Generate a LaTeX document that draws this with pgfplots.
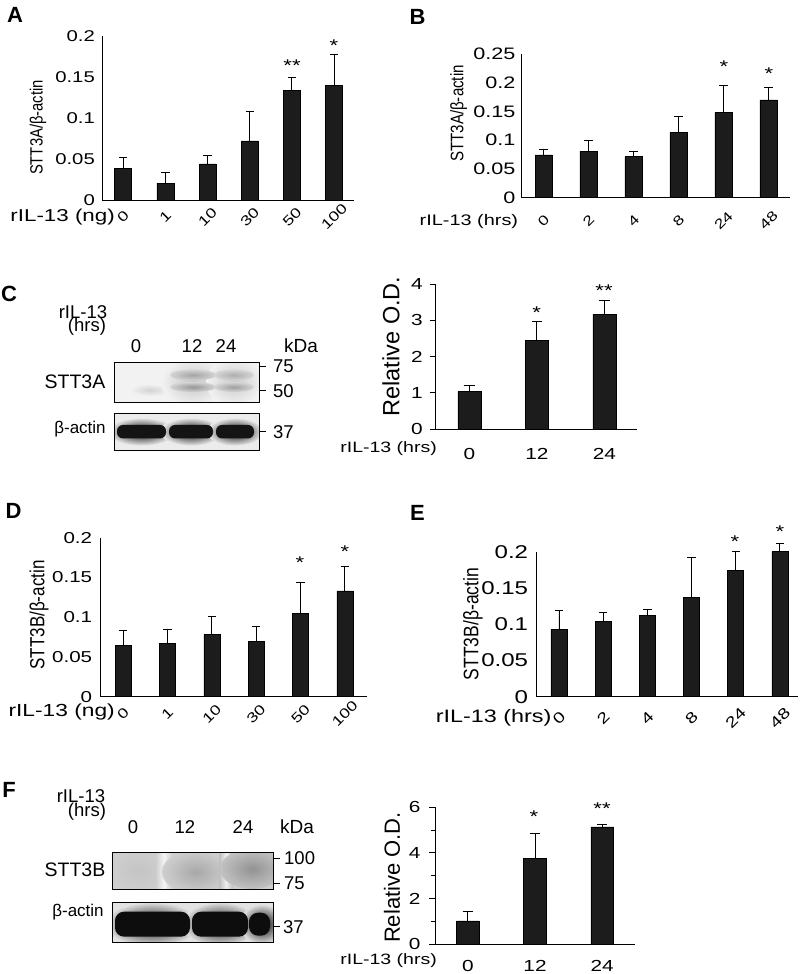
\documentclass[border=0pt]{standalone}
\usepackage{graphicx}
\usepackage{pgfplots}
\pgfplotsset{compat=1.18}
\usepackage{fontspec}
\setmainfont{Liberation Sans}[FakeStretch=1.3]
\newfontfamily\plainfont{Liberation Sans}
\newcommand{\fs}[1]{\fontsize{#1}{#1}\selectfont}
\newcommand{\pf}[1]{\plainfont\fontsize{#1}{#1}\selectfont}
\definecolor{barc}{HTML}{1C1C1C}
\pgfplotsset{
  barpanel/.style={
    scale only axis, anchor=south west,
    axis x line*=bottom, axis y line*=left,
    axis line style={line width=0.9pt},
    ymin=0, clip=false,
    major tick length=0pt,
    xtick style={draw=none}, ytick style={draw=none},
    ybar, bar width=17pt,
    yticklabel style={anchor=east, inner sep=0pt},
    xticklabel style={inner sep=0pt},
    error bars/y dir=plus, error bars/y explicit,
    error bars/error bar style={line width=0.9pt, black},
    error bars/error mark options={rotate=90, line width=0.9pt, mark size=4.2pt, black},
  },
  barplot/.style={fill=barc, draw=black, line width=0.5pt},
  rotlabels/.style={xticklabel style={rotate=45, anchor=center, font=\fs{#1}}},
}
\begin{document}
\begin{tikzpicture}
\begin{scope}[x=1pt,y=1pt]
\useasboundingbox (0,0) rectangle (800,974);
\end{scope}

% ---------------- Panel A ----------------
\begin{axis}[barpanel, at={(102pt,774pt)}, width=252pt, height=164pt,
  xmin=-0.5, xmax=5.47, ymax=0.2,
  ytick={0,0.05,0.1,0.15,0.2}, yticklabels={0,0.05,0.1,0.15,0.2},
  xtick={0,1,2,3,4,5}, xticklabels={0,1,10,30,50,100},
  tick label style={font=\fs{15.6}}, rotlabels=13.8,
  xticklabel shift=17pt, yticklabel shift=7pt]
\addplot[barplot] coordinates {(0,0.039) +- (0,0.0126) (1,0.0207) +- (0,0.0126)
  (2,0.0439) +- (0,0.0106) (3,0.072) +- (0,0.036) (4,0.134) +- (0,0.016) (5,0.140) +- (0,0.038)};
\end{axis}

% ---------------- Panel B ----------------
\begin{axis}[barpanel, at={(521pt,776.3pt)}, width=268.6pt, height=143.7pt,
  xmin=-0.5, xmax=5.47, ymax=0.25,
  ytick={0,0.05,0.1,0.15,0.2,0.25}, yticklabels={0,0.05,0.1,0.15,0.2,0.25},
  xtick={0,1,2,3,4,5}, xticklabels={0,2,4,8,24,48},
  tick label style={font=\fs{16.6}}, rotlabels=13.5,
  xticklabel shift=23pt, yticklabel shift=5.5pt]
\addplot[barplot] coordinates {(0,0.0743) +- (0,0.0092) (1,0.0812) +- (0,0.0187)
  (2,0.0713) +- (0,0.0099) (3,0.114) +- (0,0.028) (4,0.148) +- (0,0.048) (5,0.170) +- (0,0.021)};
\end{axis}

% ---------------- Panel C (chart) ----------------
\begin{axis}[barpanel, at={(435.7pt,545pt)}, width=201pt, height=144.7pt,
  xmin=-0.5, xmax=2.48, ymax=4,
  ytick={0,1,2,3,4}, yticklabels={0,1,2,3,4},
  xtick={0,1,2}, xticklabels={0,12,24},
  tick align=outside, major tick length=6pt,
  ytick style={draw=black, line width=0.9pt},
  tick label style={font=\fs{16}},
  xticklabel style={anchor=center}, xticklabel shift=19.3pt, yticklabel shift=6.7pt,
  bar width=23pt,
  error bars/error mark options={rotate=90, line width=0.9pt, mark size=5.3pt, black}]
\addplot[barplot] coordinates {(0,1.03) +- (0,0.17) (1,2.46) +- (0,0.52) (2,3.17) +- (0,0.38)};
\end{axis}

% ---------------- Panel D ----------------
\begin{axis}[barpanel, at={(100pt,277.3pt)}, width=267pt, height=159pt,
  xmin=-0.52, xmax=5.5, ymax=0.2,
  ytick={0,0.05,0.1,0.15,0.2}, yticklabels={0,0.05,0.1,0.15,0.2},
  xtick={0,1,2,3,4,5}, xticklabels={0,1,10,30,50,100},
  tick label style={font=\fs{15.8}}, rotlabels=13.8,
  xticklabel shift=17pt, yticklabel shift=7.7pt, bar width=16pt]
\addplot[barplot] coordinates {(0,0.065) +- (0,0.0185) (1,0.0671) +- (0,0.0172)
  (2,0.0785) +- (0,0.0221) (3,0.070) +- (0,0.018) (4,0.105) +- (0,0.039) (5,0.133) +- (0,0.0305)};
\end{axis}

% ---------------- Panel E ----------------
\begin{axis}[barpanel, at={(536pt,277.3pt)}, width=262pt, height=145pt,
  xmin=-0.52, xmax=5.41, ymax=0.2,
  ytick={0,0.05,0.1,0.15,0.2}, yticklabels={0,0.05,0.1,0.15,0.2},
  xtick={0,1,2,3,4,5}, xticklabels={0,2,4,8,24,48},
  tick label style={font=\fs{18.5}}, rotlabels=15,
  xticklabel shift=21pt, yticklabel shift=7.7pt, bar width=16pt]
\addplot[barplot] coordinates {(0,0.093) +- (0,0.026) (1,0.1034) +- (0,0.013)
  (2,0.1117) +- (0,0.0093) (3,0.1375) +- (0,0.0552) (4,0.1743) +- (0,0.0257) (5,0.200) +- (0,0.012)};
\end{axis}

% ---------------- Panel F (chart) ----------------
\begin{axis}[barpanel, at={(435pt,30pt)}, width=200pt, height=136.7pt,
  xmin=-0.49, xmax=2.49, ymax=6,
  ytick={0,2,4,6}, yticklabels={0,2,4,6}, minor ytick={1,3,5},
  xtick={0,1,2}, xticklabels={0,12,24},
  tick align=outside, major tick length=6pt, minor tick length=4pt,
  ytick style={draw=black, line width=0.9pt},
  minor tick style={draw=black, line width=0.9pt},
  tick label style={font=\fs{16}},
  xticklabel style={anchor=center}, xticklabel shift=16pt, yticklabel shift=8.3pt,
  bar width=22.7pt,
  error bars/error mark options={rotate=90, line width=0.9pt, mark size=5.3pt, black}]
\addplot[barplot] coordinates {(0,1.01) +- (0,0.44) (1,3.76) +- (0,1.08) (2,5.14) +- (0,0.10)};
\end{axis}

\begin{scope}[x=1pt,y=1pt]
% ---- A texts
\node[anchor=east, inner sep=0, font=\fs{17.2}] at (115,757.3) {rIL-13 (ng)};
\node[rotate=90, inner sep=0, font=\pf{14.8}] at (38,846.5) {\scalebox{1}[1.2]{STT3A/β-actin}};
\node[inner sep=0, font=\fs{17}, yshift=-3.7pt] at (292,912) {**};
\node[inner sep=0, font=\fs{17}, yshift=-3.7pt] at (334,932) {*};
\node[inner sep=0, font=\pf{22}\bfseries] at (15,959) {A};
% ---- B texts
\node[anchor=east, inner sep=0, font=\fs{15.3}] at (518.3,752.3) {rIL-13 (hrs)};
\node[rotate=90, inner sep=0, font=\pf{15.1}] at (458.7,860.5) {\scalebox{1}[1.2]{STT3A/β-actin}};
\node[inner sep=0, font=\fs{17}, yshift=-3.7pt] at (724,910.7) {*};
\node[inner sep=0, font=\fs{17}, yshift=-3.7pt] at (769,904) {*};
\node[inner sep=0, font=\pf{22}\bfseries] at (417.5,957.5) {B};
% ---- C texts
\node[anchor=east, inner sep=0, font=\fs{15}] at (437,525.7) {rIL-13 (hrs)};
\node[rotate=90, inner sep=0, font=\pf{23.5}] at (391,627.5) {Relative O.D.};
\node[inner sep=0, font=\fs{17}, yshift=-3.7pt] at (536.7,664.7) {*};
\node[inner sep=0, font=\fs{17}, yshift=-3.7pt] at (604,687.3) {**};
% ---- D texts
\node[anchor=east, inner sep=0, font=\fs{17.5}] at (115,262) {rIL-13 (ng)};
\node[rotate=90, inner sep=0, font=\pf{17}] at (39,359) {\scalebox{1}[1.2]{STT3B/β-actin}};
\node[inner sep=0, font=\fs{17}, yshift=-3.7pt] at (300,414.7) {*};
\node[inner sep=0, font=\fs{17}, yshift=-3.7pt] at (345,425.7) {*};
\node[inner sep=0, font=\pf{22}\bfseries] at (13.5,463.5) {D};
% ---- E texts
\node[anchor=east, inner sep=0, font=\fs{18}] at (551.7,255.7) {rIL-13 (hrs)};
\node[rotate=90, inner sep=0, font=\pf{17.5}] at (473,350) {\scalebox{1}[1.2]{STT3B/β-actin}};
\node[inner sep=0, font=\fs{17}, yshift=-3.7pt] at (735,435.7) {*};
\node[inner sep=0, font=\fs{17}, yshift=-3.7pt] at (780,445.7) {*};
\node[inner sep=0, font=\pf{22}\bfseries] at (417.5,461.5) {E};
% ---- F texts
\node[anchor=east, inner sep=0, font=\fs{15}] at (437,13.5) {rIL-13 (hrs)};
\node[rotate=90, inner sep=0, font=\pf{22}] at (392,96.5) {Relative O.D.};
\node[inner sep=0, font=\fs{17}, yshift=-3.7pt] at (534,160.7) {*};
\node[inner sep=0, font=\fs{17}, yshift=-3.7pt] at (602,169) {**};

% ---------------- Panel C (blot) ----------------
\node[inner sep=0, font=\pf{22}\bfseries] at (9,680.5) {C};
\node[inner sep=0, font=\pf{18.5}] at (83,662.3) {rIL-13};
\node[inner sep=0, font=\pf{18.5}] at (87,647) {(hrs)};
\node[inner sep=0, font=\pf{18.5}] at (136,628) {0};
\node[inner sep=0, font=\pf{18.5}] at (192,628) {12};
\node[inner sep=0, font=\pf{18.5}] at (226,628) {24};
\node[inner sep=0, font=\pf{19}] at (301,628) {kDa};
\node[inner sep=0, font=\pf{19.5}] at (75,592.3) {STT3A};
\node[inner sep=0, font=\pf{17}] at (80,545.3) {β-actin};
\node[anchor=west, inner sep=0, font=\pf{18.5}] at (273,607.3) {75};
\node[anchor=west, inner sep=0, font=\pf{18.5}] at (273,583.3) {50};
\node[anchor=west, inner sep=0, font=\pf{18.5}] at (273,542.3) {37};
\begin{scope}
\clip (114,571.7) rectangle (259,611.3);
\fill[gray!10] (114,571.7) rectangle (259,611.3);
\shade[inner color=gray!35, outer color=gray!10] (150,584) ellipse (20 and 6);
\shade[inner color=gray!45, outer color=gray!10] (193,592) ellipse (32 and 24);
\shade[inner color=gray!42, outer color=gray!10] (234,592) ellipse (28 and 24);
\shade[inner color=gray!72, outer color=gray!34] (193,599) ellipse (23 and 5.5);
\shade[inner color=gray!82, outer color=gray!34] (193,587) ellipse (23 and 5);
\shade[inner color=gray!64, outer color=gray!32] (234,599) ellipse (20 and 5.5);
\shade[inner color=gray!76, outer color=gray!32] (234,587) ellipse (20 and 5);
\end{scope}
\draw[line width=1pt] (114,571.7) rectangle (259,611.3);
\begin{scope}
\clip (114,523) rectangle (259,560.7);
\fill[gray!15] (114,523) rectangle (259,560.7);
\shade[inner color=black, outer color=gray!15] (141.5,542.3) ellipse (34 and 14);
\shade[inner color=black, outer color=gray!15] (191,542.3) ellipse (31 and 14);
\shade[inner color=black, outer color=gray!15] (235,542.3) ellipse (28 and 14);
\fill[black!92, rounded corners=6pt] (117,535.5) rectangle (166,549);
\fill[black!92, rounded corners=6pt] (169,535.5) rectangle (213,549);
\fill[black!92, rounded corners=6pt] (216,535.5) rectangle (254,549);
\end{scope}
\draw[line width=1pt] (114,523) rectangle (259,560.7);
\foreach \yy in {607.3,583.3,542.3} {\draw[line width=0.9pt] (259,\yy) -- (266,\yy);}

% ---------------- Panel F (blot) ----------------
\node[inner sep=0, font=\pf{22}\bfseries] at (9,184) {F};
\node[inner sep=0, font=\pf{18.5}] at (81,178.3) {rIL-13};
\node[inner sep=0, font=\pf{18.5}] at (87,162.3) {(hrs)};
\node[inner sep=0, font=\pf{18.5}] at (133,147.3) {0};
\node[inner sep=0, font=\pf{18.5}] at (185,147.3) {12};
\node[inner sep=0, font=\pf{18.5}] at (243,147.3) {24};
\node[inner sep=0, font=\pf{19}] at (297,147.3) {kDa};
\node[inner sep=0, font=\pf{19.5}] at (75,104) {STT3B};
\node[inner sep=0, font=\pf{17}] at (78,62.3) {β-actin};
\node[anchor=west, inner sep=0, font=\pf{18.5}] at (284,115.7) {100};
\node[anchor=west, inner sep=0, font=\pf{18.5}] at (284,90.7) {75};
\node[anchor=west, inner sep=0, font=\pf{18.5}] at (283,47.3) {37};
\begin{scope}
\clip (112,84.7) rectangle (273,121.7);
\fill[gray!38] (112,84.7) rectangle (273,121.7);
\shade[inner color=gray!46, outer color=gray!38] (138,103) ellipse (30 and 22);
\shade[left color=gray!38, right color=gray!38, middle color=gray!8] (156,84.7) rectangle (172,121.7);
\shade[inner color=gray!68, outer color=gray!38] (196,102) ellipse (34 and 22);
\shade[left color=gray!52, right color=gray!52, middle color=gray!12] (219,84.7) rectangle (233,121.7);
\shade[inner color=gray!85, outer color=gray!48] (252,105) ellipse (32 and 20);
\end{scope}
\draw[line width=1pt] (112,84.7) rectangle (273,121.7);
\begin{scope}
\clip (112,31.7) rectangle (273,71.3);
\fill[gray!22] (112,31.7) rectangle (273,71.3);
\shade[inner color=black, outer color=gray!22] (152,49.8) ellipse (48 and 22);
\shade[inner color=black, outer color=gray!22] (220,49.8) ellipse (38 and 22);
\shade[inner color=black, outer color=gray!22] (262,49.8) ellipse (22 and 20);
\fill[black!95, rounded corners=9pt] (115,37.3) rectangle (190,62.3);
\fill[black!95, rounded corners=9pt] (192,37.3) rectangle (248,62.3);
\fill[black!95, rounded corners=9pt] (249,38.3) rectangle (270,61.3);
\end{scope}
\draw[line width=1pt] (112,31.7) rectangle (273,71.3);
\foreach \yy in {115.7,90.7,47.3} {\draw[line width=0.9pt] (273,\yy) -- (280,\yy);}
\end{scope}
\end{tikzpicture}
\end{document}
